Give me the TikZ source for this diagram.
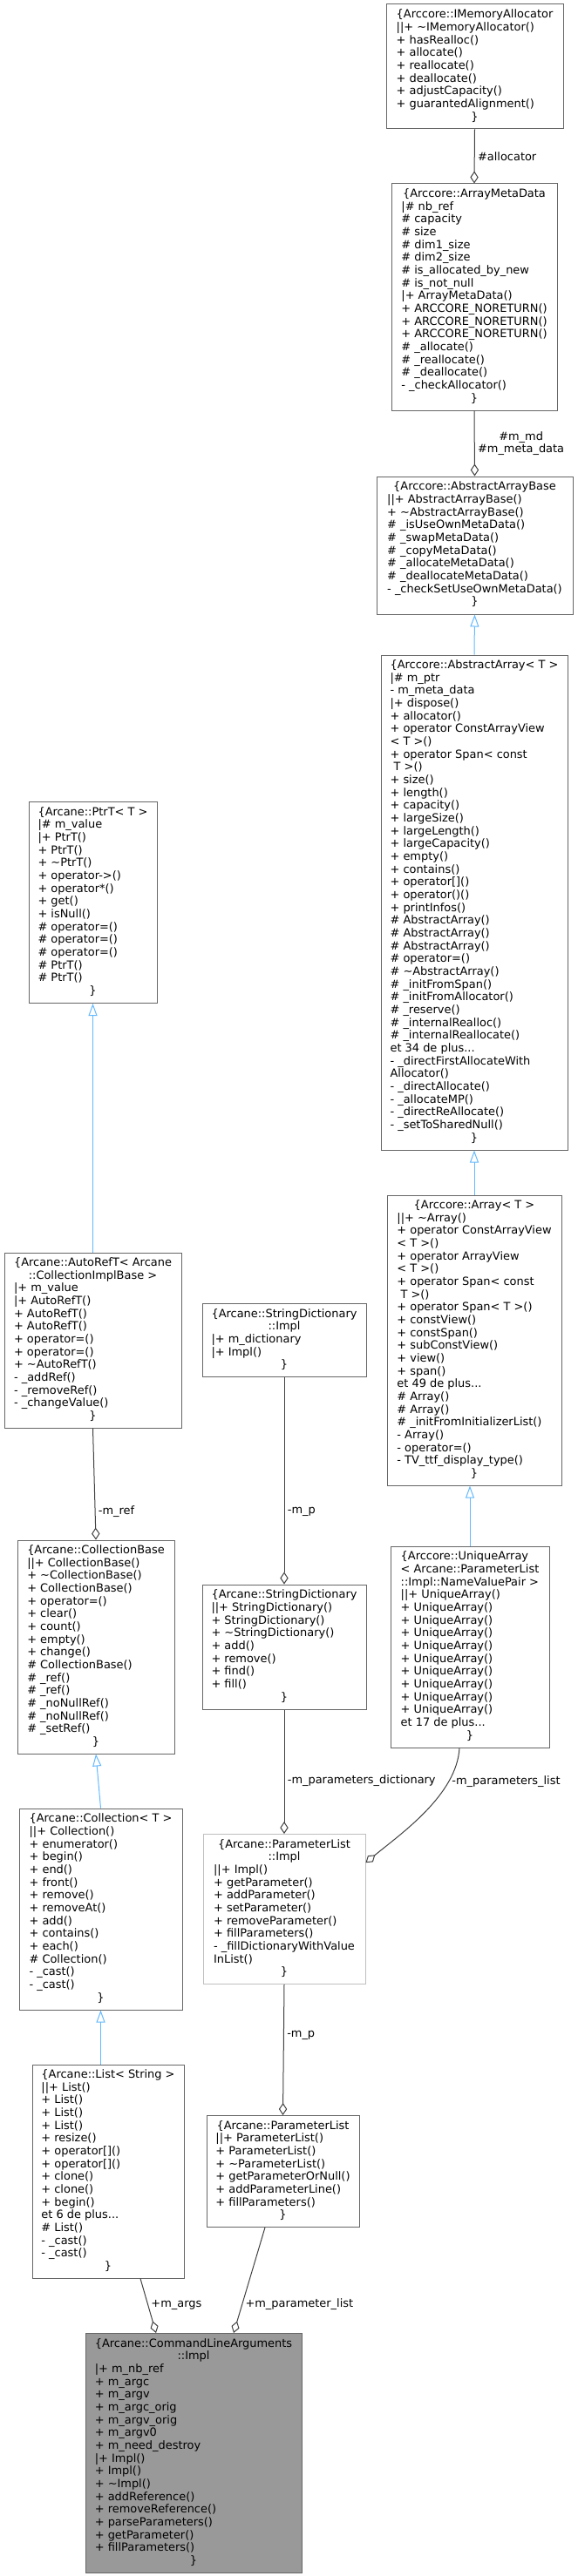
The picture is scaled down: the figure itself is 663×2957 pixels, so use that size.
\documentclass[tikz,border=0pt]{standalone}
\usepackage{fontspec}
\setmainfont{DejaVu Sans}
\usepackage{tikz}
\usetikzlibrary{arrows.meta}
\definecolor{edgegray}{HTML}{404040}
\definecolor{inhblue}{HTML}{63B8FF}
\definecolor{boxgray}{HTML}{666666}
\definecolor{undocgray}{HTML}{BFBFBF}
\definecolor{mainfill}{HTML}{999999}
\newcommand{\classhead}[1]{\multicolumn{1}{@{}c@{}}{#1}}
\newcommand{\members}[1]{\begin{tabular}{@{}l@{}}#1\end{tabular}}
\tikzstyle{classbox} = [draw=boxgray,line width=0.75pt,fill=white,inner sep=0pt,font=\fontsize{9.7}{11}\selectfont]
\tikzstyle{aggr} = [draw=edgegray,line width=0.75pt,-{Diamond[open,length=10.5pt,width=7pt]}]
\tikzstyle{inherit} = [draw=inhblue,line width=0.75pt,-{Triangle[open,length=10.5pt,width=7.5pt]}]
\tikzstyle{elabel} = [font=\fontsize{9.7}{11}\selectfont,inner sep=2.5pt]

\begin{document}
\begin{tikzpicture}[x=0.75pt,y=-0.75pt]
\useasboundingbox (0,0) rectangle (663,2957);

\node[classbox,minimum width=152.25pt,minimum height=107.25pt] (imem) at (544.5,76.5) {\members{
\classhead{\{Arccore::IMemoryAllocator}\\
||+ \textasciitilde IMemoryAllocator()\\
+ hasRealloc()\\
+ allocate()\\
+ reallocate()\\
+ deallocate()\\
+ adjustCapacity()\\
+ guarantedAlignment()\\
\classhead{\}}}};

\node[classbox,minimum width=142.5pt,minimum height=195pt] (amd) at (544,341) {\members{
\classhead{\{Arccore::ArrayMetaData}\\
|\# nb\_ref\\
\# capacity\\
\# size\\
\# dim1\_size\\
\# dim2\_size\\
\# is\_allocated\_by\_new\\
\# is\_not\_null\\
|+ ArrayMetaData()\\
+ ARCCORE\_NORETURN()\\
+ ARCCORE\_NORETURN()\\
+ ARCCORE\_NORETURN()\\
\# \_allocate()\\
\# \_reallocate()\\
\# \_deallocate()\\
- \_checkAllocator()\\
\classhead{\}}}};

\node[classbox,minimum width=168.75pt,minimum height=118.5pt] (aab) at (544.5,626) {\members{
\classhead{\{Arccore::AbstractArrayBase}\\
||+ AbstractArrayBase()\\
+ \textasciitilde AbstractArrayBase()\\
\# \_isUseOwnMetaData()\\
\# \_swapMetaData()\\
\# \_copyMetaData()\\
\# \_allocateMetaData()\\
\# \_deallocateMetaData()\\
- \_checkSetUseOwnMetaData()\\
\classhead{\}}}};

\node[classbox,minimum width=160.5pt,minimum height=426pt] (aarr) at (544,1036) {\members{
\classhead{\{Arccore::AbstractArray< T >}\\
|\# m\_ptr\\
- m\_meta\_data\\
|+ dispose()\\
+ allocator()\\
+ operator ConstArrayView\\
< T >()\\
+ operator Span< const\\
\ T >()\\
+ size()\\
+ length()\\
+ capacity()\\
+ largeSize()\\
+ largeLength()\\
+ largeCapacity()\\
+ empty()\\
+ contains()\\
+ operator[]()\\
+ operator()()\\
+ printInfos()\\
\# AbstractArray()\\
\# AbstractArray()\\
\# AbstractArray()\\
\# operator=()\\
\# \textasciitilde AbstractArray()\\
\# \_initFromSpan()\\
\# \_initFromAllocator()\\
\# \_reserve()\\
\# \_internalRealloc()\\
\# \_internalReallocate()\\
et 34 de plus...\\
- \_directFirstAllocateWith\\
Allocator()\\
- \_directAllocate()\\
- \_allocateMP()\\
- \_directReAllocate()\\
- \_setToSharedNull()\\
\classhead{\}}}};

\node[classbox,minimum width=110.25pt,minimum height=173.25pt] (ptr) at (106.5,1036) {\members{
\classhead{\{Arcane::PtrT< T >}\\
|\# m\_value\\
|+ PtrT()\\
+ PtrT()\\
+ \textasciitilde PtrT()\\
+ operator->()\\
+ operator*()\\
+ get()\\
+ isNull()\\
\# operator=()\\
\# operator=()\\
\# operator=()\\
\# PtrT()\\
\# PtrT()\\
\classhead{\}}}};

\node[classbox,minimum width=150pt,minimum height=249.75pt] (arr) at (544,1538.5) {\members{
\classhead{\{Arccore::Array< T >}\\
||+ \textasciitilde Array()\\
+ operator ConstArrayView\\
< T >()\\
+ operator ArrayView\\
< T >()\\
+ operator Span< const\\
\ T >()\\
+ operator Span< T >()\\
+ constView()\\
+ constSpan()\\
+ subConstView()\\
+ view()\\
+ span()\\
et 49 de plus...\\
\# Array()\\
\# Array()\\
\# \_initFromInitializerList()\\
- Array()\\
- operator=()\\
- TV\_ttf\_display\_type()\\
\classhead{\}}}};

\node[classbox,minimum width=152.25pt,minimum height=150.75pt] (autoref) at (106.5,1538.5) {\members{
\classhead{\{Arcane::AutoRefT< Arcane}\\
\classhead{::CollectionImplBase >}\\
|+ m\_value\\
|+ AutoRefT()\\
+ AutoRefT()\\
+ AutoRefT()\\
+ operator=()\\
+ operator=()\\
+ \textasciitilde AutoRefT()\\
- \_addRef()\\
- \_removeRef()\\
- \_changeValue()\\
\classhead{\}}}};

\node[classbox,minimum width=141pt,minimum height=63pt] (sdimpl) at (326,1538.5) {\members{
\classhead{\{Arcane::StringDictionary}\\
\classhead{::Impl}\\
|+ m\_dictionary\\
|+ Impl()\\
\classhead{\}}}};

\node[classbox,minimum width=136.5pt,minimum height=173.25pt] (uarr) at (539,1890.5) {\members{
\{Arccore::UniqueArray\\
< Arcane::ParameterList\\
::Impl::NameValuePair >\\
||+ UniqueArray()\\
+ UniqueArray()\\
+ UniqueArray()\\
+ UniqueArray()\\
+ UniqueArray()\\
+ UniqueArray()\\
+ UniqueArray()\\
+ UniqueArray()\\
+ UniqueArray()\\
+ UniqueArray()\\
et 17 de plus...\\
\classhead{\}}}};

\node[classbox,minimum width=135pt,minimum height=183.75pt] (cbase) at (110,1890.5) {\members{
\classhead{\{Arcane::CollectionBase}\\
||+ CollectionBase()\\
+ \textasciitilde CollectionBase()\\
+ CollectionBase()\\
+ operator=()\\
+ clear()\\
+ count()\\
+ empty()\\
+ change()\\
\# CollectionBase()\\
\# \_ref()\\
\# \_ref()\\
\# \_noNullRef()\\
\# \_noNullRef()\\
\# \_setRef()\\
\classhead{\}}}};

\node[classbox,minimum width=141pt,minimum height=107.25pt] (sdict) at (326,1890.5) {\members{
\classhead{\{Arcane::StringDictionary}\\
||+ StringDictionary()\\
+ StringDictionary()\\
+ \textasciitilde StringDictionary()\\
+ add()\\
+ remove()\\
+ find()\\
+ fill()\\
\classhead{\}}}};

\node[classbox,minimum width=140.25pt,minimum height=173.25pt] (coll) at (115.5,2191.5) {\members{
\classhead{\{Arcane::Collection< T >}\\
||+ Collection()\\
+ enumerator()\\
+ begin()\\
+ end()\\
+ front()\\
+ remove()\\
+ removeAt()\\
+ add()\\
+ contains()\\
+ each()\\
\# Collection()\\
- \_cast()\\
- \_cast()\\
\classhead{\}}}};

\node[classbox,draw=undocgray,minimum width=139.5pt,minimum height=129pt] (pli) at (326,2191.5) {\members{
\classhead{\{Arcane::ParameterList}\\
\classhead{::Impl}\\
||+ Impl()\\
+ getParameter()\\
+ addParameter()\\
+ setParameter()\\
+ removeParameter()\\
+ fillParameters()\\
- \_fillDictionaryWithValue\\
InList()\\
\classhead{\}}}};

\node[classbox,minimum width=130.5pt,minimum height=183.75pt] (list) at (124,2492.5) {\members{
\classhead{\{Arcane::List< String >}\\
||+ List()\\
+ List()\\
+ List()\\
+ List()\\
+ resize()\\
+ operator[]()\\
+ operator[]()\\
+ clone()\\
+ clone()\\
+ begin()\\
et 6 de plus...\\
\# List()\\
- \_cast()\\
- \_cast()\\
\classhead{\}}}};

\node[classbox,minimum width=131.25pt,minimum height=96pt] (plist) at (324.5,2492.5) {\members{
\classhead{\{Arcane::ParameterList}\\
||+ ParameterList()\\
+ ParameterList()\\
+ \textasciitilde ParameterList()\\
+ getParameterOrNull()\\
+ addParameterLine()\\
+ fillParameters()\\
\classhead{\}}}};

\node[classbox,fill=mainfill,minimum width=186pt,minimum height=206.25pt] (cla) at (222,2816) {\members{
\classhead{\{Arcane::CommandLineArguments}\\
\classhead{::Impl}\\
|+ m\_nb\_ref\\
+ m\_argc\\
+ m\_argv\\
+ m\_argc\_orig\\
+ m\_argv\_orig\\
+ m\_argv0\\
+ m\_need\_destroy\\
|+ Impl()\\
+ Impl()\\
+ \textasciitilde Impl()\\
+ addReference()\\
+ removeReference()\\
+ parseParameters()\\
+ getParameter()\\
+ fillParameters()\\
\classhead{\}}}};

\draw[aggr] (imem.south) -- (amd.north) node[midway,right,elabel] {\#allocator};
\draw[aggr] (amd.south) -- (aab.north) node[midway,right,elabel,align=center] {\#m\_md\\\#m\_meta\_data};
\draw[inherit] (aarr.north) -- (aab.south);
\draw[inherit] (arr.north) -- (aarr.south);
\draw[inherit] (uarr.north) -- (uarr.north |- arr.south);
\draw[inherit] (autoref.north) -- (ptr.south);
\draw[aggr] (autoref.south) -- (cbase.north) node[pos=0.75,right,elabel] {-m\_ref};
\draw[inherit] (coll.north) -- (cbase.south);
\draw[inherit] (list.north -| coll.south) -- (coll.south);
\draw[aggr] (sdimpl.south) -- (sdict.north) node[pos=0.65,right,elabel] {-m\_p};
\draw[aggr] (sdict.south) -- (pli.north) node[pos=0.57,right,elabel] {-m\_parameters\_dictionary};
\draw[aggr] ([xshift=-9pt]uarr.south) .. controls +(-3,54) and +(40,-33) .. ([yshift=40pt]pli.east) node[pos=0.25,right,elabel] {-m\_parameters\_list};
\draw[aggr] (pli.south) -- (plist.north) node[pos=0.39,right,elabel] {-m\_p};
\draw[aggr] ([xshift=27.75pt]list.south) -- ([xshift=-32.25pt]cla.north) node[pos=0.48,right,elabel] {+m\_args};
\draw[aggr] ([xshift=-15.4pt]plist.south) -- ([xshift=34.5pt]cla.north) node[pos=0.73,right,elabel] {+m\_parameter\_list};
\end{tikzpicture}
\end{document}
